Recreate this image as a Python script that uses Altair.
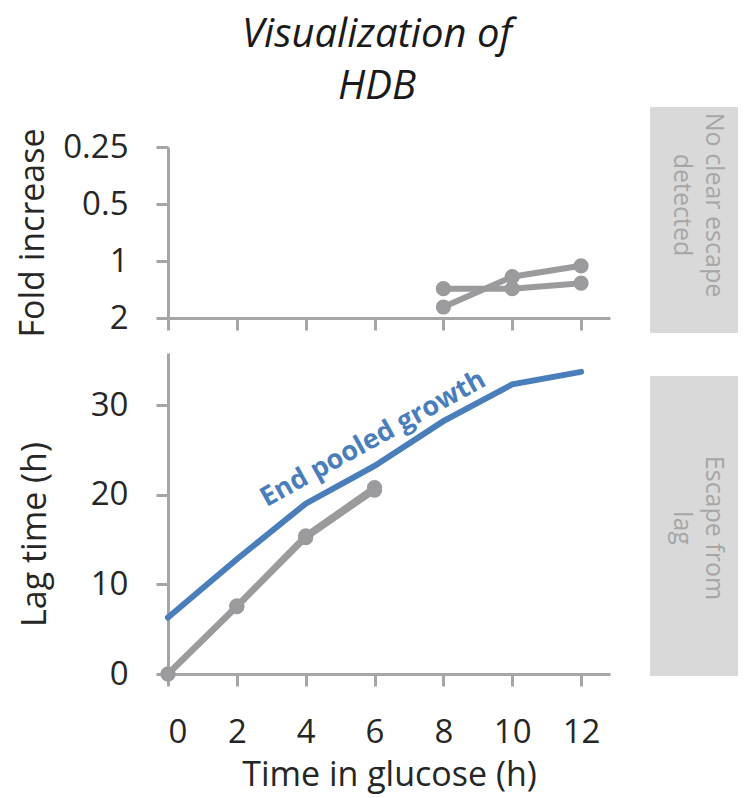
import altair as alt
import pandas as pd

# ---- data ----
x_ticks = [0, 2, 4, 6, 8, 10, 12]
fold_ticks = [0.25, 0.5, 1, 2]
lag_ticks = [0, 10, 20, 30]

fold_time = [8, 10, 12]
fold_a = [1.40, 1.40, 1.31]
fold_b = [1.75, 1.21, 1.06]

lag_time = [0, 2, 4, 6]
lag_a = [0, 7.5, 15.2, 20.5]
lag_b = [0, 7.6, 15.4, 20.8]

pooled_time = [0, 2, 4, 6, 8, 10, 12]
pooled_lag = [6.3, 12.8, 19.0, 23.2, 28.2, 32.3, 33.7]

label_text = ["End pooled growth"]
label_x = [5.96]
label_y = [26.2]

strip_top = "No clear escape\ndetected"
strip_bottom = "Escape from\nlag"

GRAY = "#9b9b9d"
BLUE = "#4a7ebb"
AXIS = "#a6a6a6"
FONT = "Open Sans"

fold_df = pd.DataFrame({
    "time": fold_time * 2,
    "fold": fold_a + fold_b,
    "series": ["a"] * 3 + ["b"] * 3,
})
lag_df = pd.DataFrame({
    "time": lag_time * 2,
    "lag": lag_a + lag_b,
    "series": ["a"] * 4 + ["b"] * 4,
})
pooled_df = pd.DataFrame({"time": pooled_time, "lag": pooled_lag})
label_df = pd.DataFrame({"time": label_x, "lag": label_y, "text": label_text})
one = pd.DataFrame({"k": [0]})

W = 442
H_TOP = 171
H_BOT = 321

x_scale = alt.Scale(domain=[0, 12.84], nice=False, zero=False)

# ---- top panel ----
x_top = alt.X("time:Q", scale=x_scale,
              axis=alt.Axis(values=x_ticks, labels=False, title=None))
y_top = alt.Y("fold:Q",
              scale=alt.Scale(type="log", base=2, domain=[0.25, 2], reverse=True, nice=False),
              axis=alt.Axis(values=fold_ticks, format="~g", title="Fold increase",
                            titleX=-135, titleBaseline="middle"))

top_lines = alt.Chart(fold_df).mark_line(color=GRAY, strokeWidth=6).encode(
    x=x_top, y=y_top, detail="series:N")
top_points = alt.Chart(fold_df).mark_circle(color=GRAY, size=230, opacity=1).encode(
    x=x_top, y=y_top, detail="series:N")
top_strip = alt.Chart(one).mark_rect(color="#d9d9d9").encode(
    x=alt.value(482), x2=alt.value(570), y=alt.value(-40), y2=alt.value(186))
top_strip_text = alt.Chart(one).mark_text(
    angle=90, lineBreak="\n", fontSize=25, color="#a6a6a6", font=FONT,
    align="center", baseline="middle", lineHeight=32).encode(
    x=alt.value(546), y=alt.value(58), text=alt.value(strip_top))

top = alt.layer(top_strip, top_strip_text, top_lines, top_points).properties(
    width=W, height=H_TOP)

# ---- bottom panel ----
x_bot = alt.X("time:Q", scale=x_scale,
              axis=alt.Axis(values=x_ticks, title="Time in glucose (h)", labelPadding=30,
                            titlePadding=9))
y_bot = alt.Y("lag:Q", scale=alt.Scale(domain=[0, 35.8], nice=False),
              axis=alt.Axis(values=lag_ticks, title="Lag time (h)",
                            titleX=-133, titleY=181, titleBaseline="middle"))

pooled_line = alt.Chart(pooled_df).mark_line(color=BLUE, strokeWidth=6, strokeCap="round").encode(
    x=x_bot, y=y_bot)
lag_lines = alt.Chart(lag_df).mark_line(color=GRAY, strokeWidth=6).encode(
    x=x_bot, y=y_bot, detail="series:N")
lag_points = alt.Chart(lag_df).mark_circle(color=GRAY, size=230, opacity=1).encode(
    x=x_bot, y=y_bot, detail="series:N")
label = alt.Chart(label_df).mark_text(
    angle=331, fontSize=27, fontWeight="bold", color=BLUE, font=FONT,
    align="center", baseline="middle").encode(
    x=alt.X("time:Q", scale=x_scale), y=alt.Y("lag:Q"), text="text:N")
bot_strip = alt.Chart(one).mark_rect(color="#d9d9d9").encode(
    x=alt.value(482), x2=alt.value(570), y=alt.value(23), y2=alt.value(323))
bot_strip_text = alt.Chart(one).mark_text(
    angle=90, lineBreak="\n", fontSize=25, color="#a6a6a6", font=FONT,
    align="center", baseline="middle", lineHeight=32).encode(
    x=alt.value(546), y=alt.value(175), text=alt.value(strip_bottom))

bottom = alt.layer(bot_strip, bot_strip_text, pooled_line, lag_lines, lag_points, label).properties(
    width=W, height=H_BOT)

chart = alt.vconcat(top, bottom, spacing=15).properties(
    padding={"left": 8, "top": 7, "right": 0, "bottom": 4},
    title=alt.TitleParams(
        text=["Visualization of", "HDB"], fontSize=40, font=FONT, fontStyle="italic",
        fontWeight="normal", lineHeight=52, anchor="middle", color="#1a1a1a", offset=0),
).configure_view(stroke=None).configure_axis(
    grid=False,
    domainColor=AXIS, domainWidth=3, tickColor=AXIS, tickWidth=3, tickSize=12,
    labelFont=FONT, labelFontSize=33, labelColor="#262626", labelPadding=28,
    titleFont=FONT, titleFontSize=34, titleFontWeight="normal", titleColor="#262626",
)

chart.save("out.html", embed_options={"renderer": "svg", "actions": False})
